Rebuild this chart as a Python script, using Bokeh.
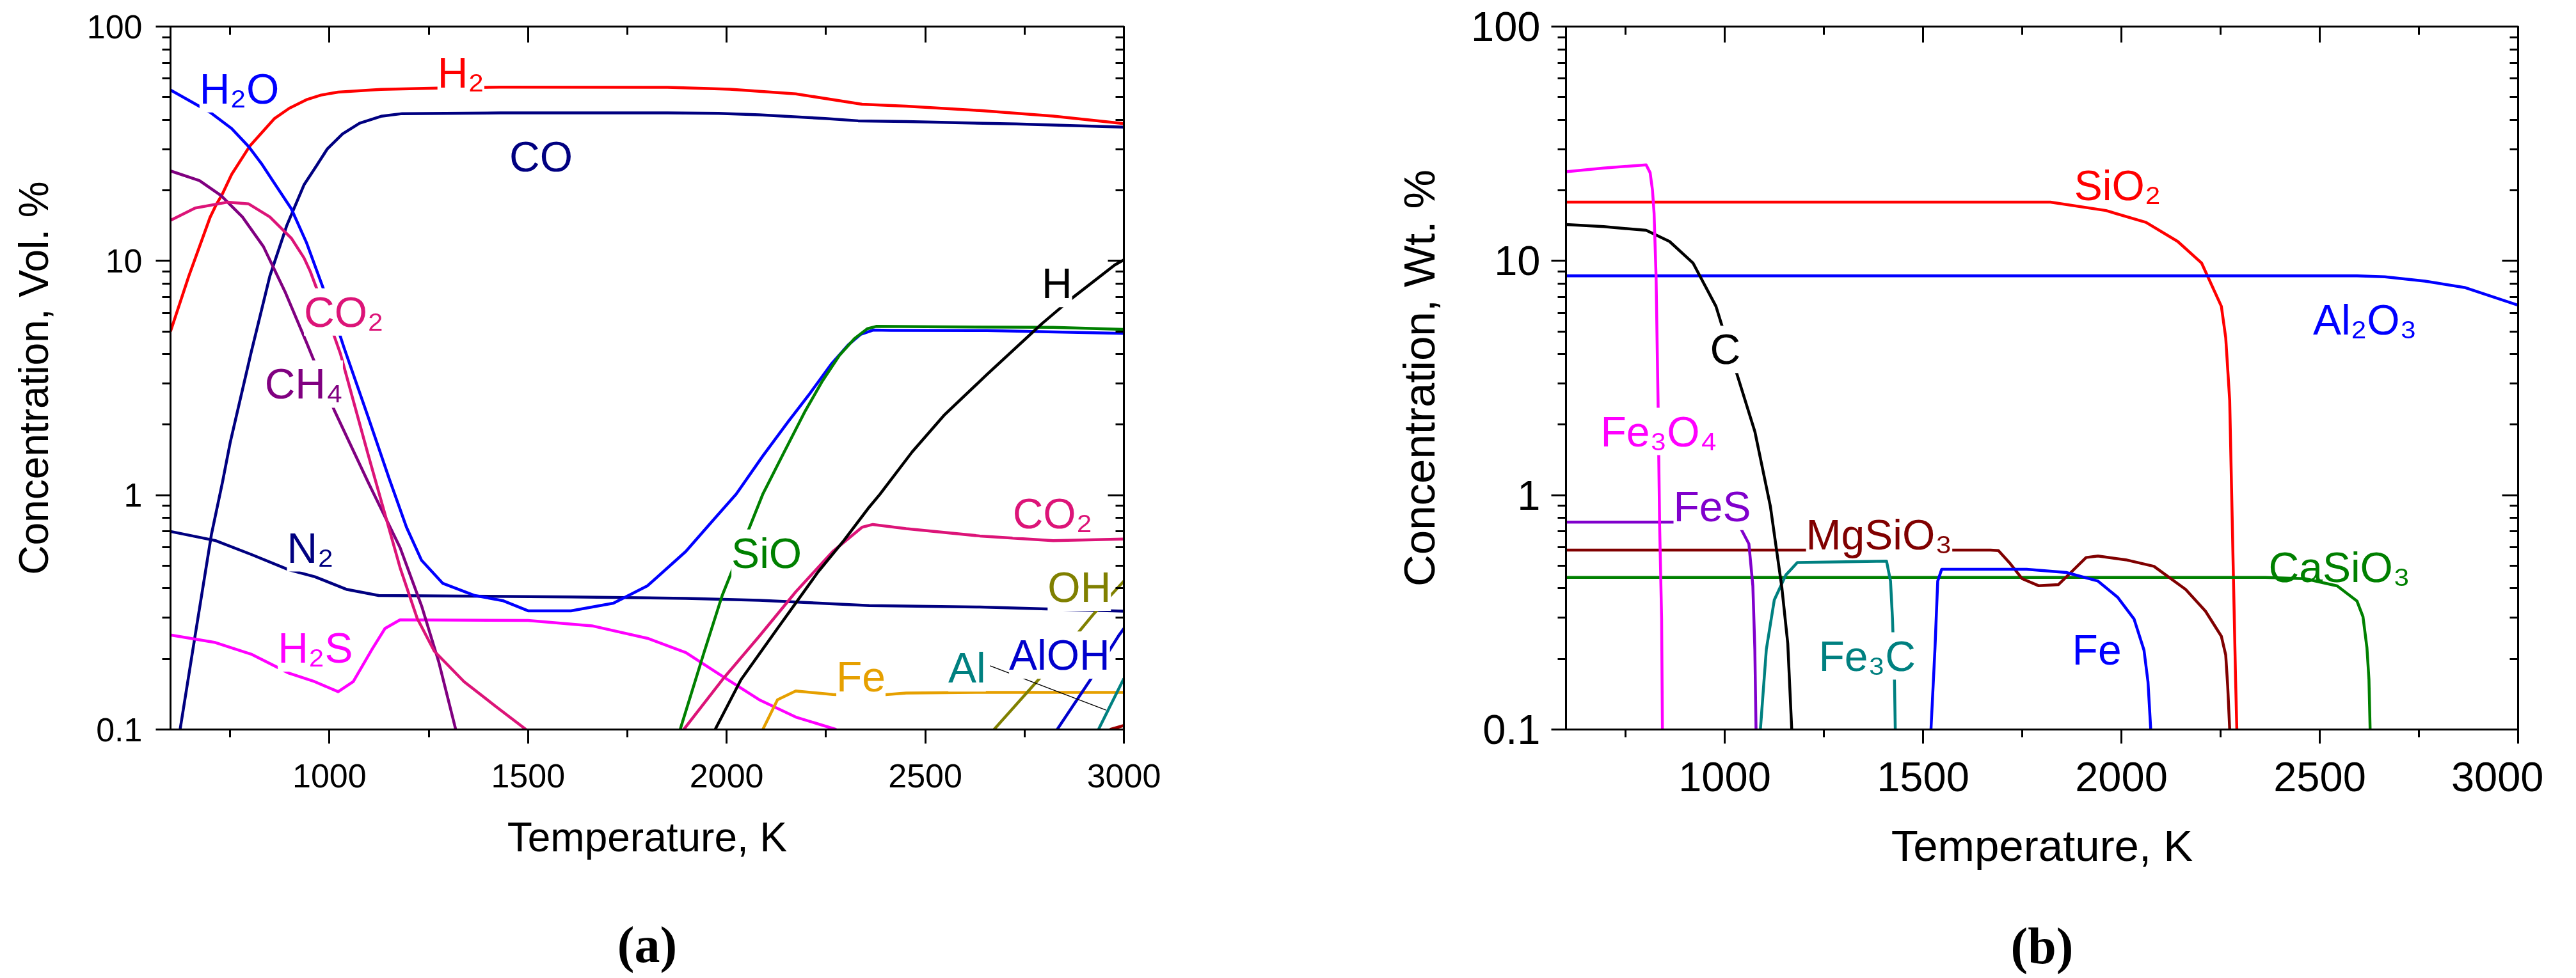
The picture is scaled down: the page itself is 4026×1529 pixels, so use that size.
from bokeh.plotting import figure
from bokeh.models import FixedTicker, LinearAxis, LogAxis, Label, Title, CustomJSTickFormatter
from bokeh.layouts import row
from bokeh.embed import file_html
from bokeh.resources import INLINE

nan = float("nan")

# ---------------- Panel (a): gas phase, Vol. % ----------------
a_H2_T = [600, 646, 700, 716, 730, 754, 799, 861, 899, 942, 979, 1022, 1130, 1291, 1430, 1851, 2008, 2174, 2341, 2452, 2637, 2822, 3000]
a_H2_v = [5.0, 8.6, 15.4, 17.5, 19.2, 23.4, 30.8, 40.4, 44.8, 48.7, 51.0, 52.5, 53.9, 54.7, 55.1, 55.0, 54.0, 51.6, 46.6, 45.7, 43.8, 41.5, 38.5]

a_CO_T = [622, 660, 703, 731, 750, 802, 850, 893, 936, 969, 995, 1033, 1076, 1130, 1183, 1430, 1851, 1980, 2082, 2248, 2331, 2452, 2729, 3000]
a_CO_v = [0.095, 0.24, 0.68, 1.14, 1.67, 4.0, 8.6, 14.2, 21.1, 25.7, 30.1, 34.8, 38.7, 41.4, 42.5, 42.8, 42.8, 42.6, 42.0, 40.5, 39.6, 39.3, 38.4, 37.2]

a_H2O_T = [600, 700, 754, 797, 829, 861, 904, 942, 969, 1017, 1036, 1097, 1151, 1194, 1232, 1285, 1366, 1436, 1500, 1608,
           1715, 1801, 1897, 1971, 2024, 2091, 2155, 2209, 2263, 2306, 2338, 2370, 2413, 2655, 3000]
a_H2O_v = [53.6, 43.0, 36.7, 30.7, 26.0, 21.5, 16.7, 12.0, 9.0, 5.4, 4.3, 2.17, 1.17, 0.73, 0.527, 0.421, 0.373, 0.355, 0.321, 0.321,
           0.346, 0.411, 0.575, 0.80, 1.01, 1.47, 2.06, 2.71, 3.62, 4.38, 4.86, 5.07, 5.05, 5.04, 4.9]

a_CO2_T = [600, 662, 743, 797, 850, 904, 936, 952, 1001, 1028, 1097, 1178, 1221, 1264, 1339, 1420, 1495, nan,
           1892, 1989, 2082, 2174, 2267, 2341, 2368, 2452, 2637, 2822, 3000]
a_CO2_v = [14.9, 16.8, 17.8, 17.5, 15.4, 12.5, 10.3, 9.0, 5.4, 4.0, 1.50, 0.49, 0.298, 0.216, 0.160, 0.125, 0.1, nan,
           0.1, 0.163, 0.25, 0.387, 0.575, 0.73, 0.75, 0.72, 0.67, 0.64, 0.65]

a_CH4_T = [600, 673, 727, 781, 834, 888, 942, 1012, 1097, 1178, 1232, 1275, 1318]
a_CH4_v = [24.2, 22.0, 19.0, 15.4, 11.5, 7.4, 4.5, 2.31, 1.14, 0.597, 0.337, 0.195, 0.1]

a_N2_T = [600, 713, 805, 898, 963, 1044, 1124, 1608, 1897, 2082, 2359, 2637, 3000]
a_N2_v = [0.70, 0.64, 0.557, 0.48, 0.449, 0.396, 0.373, 0.368, 0.363, 0.356, 0.338, 0.333, 0.32]

a_H2S_T = [600, 713, 805, 898, 963, 1022, 1060, 1108, 1140, 1178, 1500, 1661, 1801, 1897, 1989, 2082, 2174, 2276]
a_H2S_v = [0.253, 0.235, 0.209, 0.174, 0.160, 0.145, 0.160, 0.221, 0.270, 0.294, 0.292, 0.277, 0.245, 0.213, 0.169, 0.134, 0.113, 0.1]

a_H_T = [1971, 2036, 2128, 2230, 2295, 2359, 2386, 2467, 2547, 2655, 2794, 2868, 2977, 3000]
a_H_v = [0.1, 0.163, 0.27, 0.47, 0.64, 0.89, 1.01, 1.53, 2.19, 3.27, 5.4, 6.9, 9.6, 10.1]

a_SiO_T = [1883, 1943, 1989, 2091, 2145, 2198, 2241, 2284, 2322, 2354, 2376, 2822, 3000]
a_SiO_v = [0.1, 0.213, 0.374, 1.01, 1.53, 2.29, 3.07, 3.95, 4.66, 5.13, 5.25, 5.2, 5.1]

a_Fe_T = [2091, 2128, 2174, 2267, 2359, 2452, 2637, 3000]
a_Fe_v = [0.1, 0.134, 0.146, 0.141, 0.139, 0.143, 0.144, 0.144]

a_OH_T = [2673, 2816, 2923, 3000]
a_OH_v = [0.1, 0.187, 0.31, 0.43]

a_AlOH_T = [2832, 2939, 2988, 3000]
a_AlOH_v = [0.1, 0.187, 0.253, 0.27]

a_Al_T = [2936, 3000]
a_Al_v = [0.1, 0.165]

a_other_T = [2965, 3000]
a_other_v = [0.1, 0.104]

a_series = [
    (a_H2_T, a_H2_v, "#FF0000"),
    (a_CO_T, a_CO_v, "#000080"),
    (a_N2_T, a_N2_v, "#000080"),
    (a_H2S_T, a_H2S_v, "#FF00FF"),
    (a_CH4_T, a_CH4_v, "#800080"),
    (a_CO2_T, a_CO2_v, "#DC1478"),
    (a_H2O_T, a_H2O_v, "#0000FF"),
    (a_SiO_T, a_SiO_v, "#008000"),
    (a_H_T, a_H_v, "#000000"),
    (a_Fe_T, a_Fe_v, "#E6A000"),
    (a_OH_T, a_OH_v, "#808000"),
    (a_AlOH_T, a_AlOH_v, "#0000CC"),
    (a_Al_T, a_Al_v, "#008080"),
    (a_other_T, a_other_v, "#A00000"),
]

a_label_text = ["H₂O", "H₂", "CO", "CO₂", "CH₄", "N₂", "H₂S", "H", "SiO", "CO₂", "OH", "AlOH", "Al", "Fe"]
a_label_T = [673, 1272, 1453, 936, 837, 893, 870, 2793, 2012, 2720, 2808, 2711, 2558, 2276]
a_label_v = [54.3, 63.4, 27.9, 6.05, 2.98, 0.596, 0.223, 8.0, 0.566, 0.836, 0.405, 0.2075, 0.183, 0.168]
a_label_color = ["#0000FF", "#FF0000", "#000080", "#DC1478", "#800080", "#000080", "#FF00FF", "#000000",
                 "#008000", "#DC1478", "#808000", "#0000CC", "#008080", "#E6A000"]
a_label_bg = [True, True, True, True, True, True, True, True, True, True, True, True, True, True]

a_leader_T = [2663, 2955]
a_leader_v = [0.187, 0.121]

# ---------------- Panel (b): condensed phase, Wt. % ----------------
b_Fe3O4_T = [600, 695, 802, 812, 818, 822, 827, 832, 836, 841, 843]
b_Fe3O4_v = [24.0, 24.9, 25.7, 23.8, 20.0, 16.0, 8.6, 2.54, 0.74, 0.297, 0.1]

b_C_T = [600, 695, 802, 861, 920, 978, 1027, 1076, 1115, 1144, 1159, 1169]
b_C_v = [14.3, 14.0, 13.5, 12.1, 9.8, 6.4, 3.45, 1.87, 0.90, 0.405, 0.233, 0.1]

b_FeS_T = [600, 988, 1037, 1061, 1071, 1076, 1079]
b_FeS_v = [0.767, 0.767, 0.74, 0.62, 0.41, 0.22, 0.1]

b_Fe3C_T = [1090, 1105, 1125, 1154, 1183, 1408, 1418, 1423, 1428, 1430]
b_Fe3C_v = [0.1, 0.22, 0.357, 0.456, 0.516, 0.523, 0.43, 0.297, 0.161, 0.1]

b_SiO2_T = [600, 1821, 1961, 2062, 2142, 2202, 2252, 2263, 2273, 2278, 2283, 2288, 2291]
b_SiO2_v = [17.8, 17.8, 16.4, 14.6, 12.1, 9.8, 6.4, 4.7, 2.54, 1.01, 0.40, 0.16, 0.1]

b_Al2O3_T = [600, 2594, 2664, 2765, 2865, 3000]
b_Al2O3_v = [8.63, 8.63, 8.55, 8.2, 7.7, 6.47]

b_MgSiO3_T = [600, 1670, 1690, 1720, 1750, 1791, 1841, 1871, 1911, 1941, 2011, 2082, 2162, 2212, 2252, 2263, 2268, 2273]
b_MgSiO3_v = [0.583, 0.583, 0.58, 0.51, 0.44, 0.411, 0.415, 0.465, 0.542, 0.55, 0.53, 0.497, 0.396, 0.32, 0.25, 0.208, 0.153, 0.1]

b_CaSiO3_T = [600, 2363, 2463, 2544, 2594, 2609, 2619, 2624, 2627]
b_CaSiO3_v = [0.446, 0.446, 0.44, 0.41, 0.353, 0.303, 0.223, 0.164, 0.1]

b_Fe_T = [1520, 1530, 1537, 1547, 1761, 1861, 1941, 1991, 2032, 2057, 2067, 2074]
b_Fe_v = [0.1, 0.22, 0.43, 0.483, 0.483, 0.468, 0.43, 0.366, 0.296, 0.218, 0.16, 0.1]

b_series = [
    (b_SiO2_T, b_SiO2_v, "#FF0000"),
    (b_Al2O3_T, b_Al2O3_v, "#0000FF"),
    (b_CaSiO3_T, b_CaSiO3_v, "#008000"),
    (b_MgSiO3_T, b_MgSiO3_v, "#800000"),
    (b_Fe_T, b_Fe_v, "#0000FF"),
    (b_Fe3C_T, b_Fe3C_v, "#008080"),
    (b_FeS_T, b_FeS_v, "#8000CC"),
    (b_C_T, b_C_v, "#000000"),
    (b_Fe3O4_T, b_Fe3O4_v, "#FF00FF"),
]

b_label_text = ["SiO₂", "Al₂O₃", "C", "Fe₃O₄", "FeS", "MgSiO₃", "Fe₃C", "Fe", "CaSiO₃"]
b_label_T = [1881, 2483, 963, 687, 871, 1205, 1237, 1876, 2371]
b_label_v = [21.0, 5.62, 4.19, 1.87, 0.895, 0.679, 0.206, 0.219, 0.491]
b_label_color = ["#FF0000", "#0000FF", "#000000", "#FF00FF", "#8000CC", "#800000", "#008080", "#0000FF", "#008000"]
b_label_bg = [False, False, True, True, True, True, True, True, False]

# ---------------- Axes ticks ----------------
x_major = [1000, 1500, 2000, 2500, 3000]
x_minor = [750, 1250, 1750, 2250, 2750]
y_major = [0.1, 1, 10, 100]
y_minor = [k * d for d in (0.1, 1, 10) for k in range(2, 10)]
y_labels = {0.1: "0.1", 1: "1", 10: "10", 100: "100"}

FONT = "Liberation Sans"


def blank_axis(cls, ticker, **kw):
    return cls(ticker=ticker, formatter=CustomJSTickFormatter(code="return ''"),
               major_label_text_font_size="1px", **kw)


def make_panel(series, lw, lab_T, lab_v, lab_text, lab_color, lab_bg, lab_fs, ylabel,
               left_border, right_border, frame_w, tick_fs, title_fs,
               xtick_sd, xlab_sd, ytick_sd, ylab_sd, panel_text, gap):
    p = figure(x_range=(600, 3000), y_range=(0.1, 100), y_axis_type="log",
               frame_width=frame_w, frame_height=1099,
               min_border_left=left_border, min_border_right=right_border,
               min_border_top=41, min_border_bottom=373,
               output_backend="svg", toolbar_location=None,
               background_fill_color="white", border_fill_color="white")
    p.xgrid.visible = False
    p.ygrid.visible = False
    p.outline_line_color = "black"
    p.outline_line_width = 3

    xa = p.below[0]
    xa.ticker = FixedTicker(ticks=x_major, minor_ticks=x_minor)
    xa.major_tick_out = 22
    xa.major_tick_in = 0
    xa.minor_tick_out = 12
    xa.minor_tick_in = 0
    xa.axis_line_width = 3
    xa.major_tick_line_width = 3
    xa.minor_tick_line_width = 3
    xa.major_label_text_font = FONT
    xa.major_label_text_font_size = tick_fs
    xa.major_label_text_color = "black"
    xa.major_label_standoff = xtick_sd
    xa.axis_label = "Temperature, K"
    xa.axis_label_text_font = FONT
    xa.axis_label_text_font_size = title_fs
    xa.axis_label_text_font_style = "normal"
    xa.axis_label_text_color = "black"
    xa.axis_label_standoff = xlab_sd

    ya = p.left[0]
    ya.ticker = FixedTicker(ticks=y_major, minor_ticks=y_minor)
    ya.major_label_overrides = y_labels
    ya.major_tick_out = 23
    ya.major_tick_in = 0
    ya.minor_tick_out = 13
    ya.minor_tick_in = 0
    ya.axis_line_width = 3
    ya.major_tick_line_width = 3
    ya.minor_tick_line_width = 3
    ya.major_label_text_font = FONT
    ya.major_label_text_font_size = tick_fs
    ya.major_label_text_color = "black"
    ya.major_label_standoff = ytick_sd
    ya.axis_label = ylabel
    ya.axis_label_text_font = FONT
    ya.axis_label_text_font_size = title_fs
    ya.axis_label_text_font_style = "normal"
    ya.axis_label_text_color = "black"
    ya.axis_label_standoff = ylab_sd

    top = blank_axis(LinearAxis, FixedTicker(ticks=x_major, minor_ticks=x_minor),
                     major_tick_in=25, major_tick_out=0, minor_tick_in=13, minor_tick_out=0,
                     axis_line_width=3, major_tick_line_width=3, minor_tick_line_width=3,
                     major_label_standoff=0)
    p.add_layout(top, "above")
    right = blank_axis(LogAxis, FixedTicker(ticks=y_major, minor_ticks=y_minor),
                       major_tick_in=25, major_tick_out=0, minor_tick_in=13, minor_tick_out=0,
                       axis_line_width=3, major_tick_line_width=3, minor_tick_line_width=3,
                       major_label_standoff=0)
    p.add_layout(right, "right")

    # invisible spacer (hidden tick length) between the axis title and the panel caption
    spacer = blank_axis(LinearAxis, FixedTicker(ticks=x_major),
                        major_tick_in=0, major_tick_out=gap, minor_tick_in=0, minor_tick_out=0,
                        axis_line_color=None, major_tick_line_color=None, minor_tick_line_color=None,
                        major_label_standoff=0)
    p.add_layout(spacer, "below")

    for T, v, col in series:
        p.line(T, v, line_color=col, line_width=lw, line_join="round")

    for t, v, txt, col, bg in zip(lab_T, lab_v, lab_text, lab_color, lab_bg):
        p.add_layout(Label(x=t, y=v, text=txt, text_color=col, text_font=FONT,
                           text_font_size=lab_fs, text_align="left", text_baseline="alphabetic",
                           background_fill_color="white" if bg else None))

    p.add_layout(Title(text=panel_text, align="center", offset=-45, standoff=10,
                       text_font="Liberation Serif", text_font_style="bold", text_font_size="80px",
                       text_color="black"), "below")
    return p


pa = make_panel(a_series, 4.5, a_label_T, a_label_v, a_label_text, a_label_color, a_label_bg, "66px",
                "Concentration, Vol. %", 266, 120, 1490, "52px", "64px",
                32, 39, 21, 44, "(a)", 78)
pa.line(a_leader_T, a_leader_v, line_color="black", line_width=1.5)

pb = make_panel(b_series, 4.5, b_label_T, b_label_v, b_label_text, b_label_color, b_label_bg, "66px",
                "Concentration, Wt. %", 571, 40, 1488, "65px", "69px",
                29, 44, 17, 39, "(b)", 64)

layout = row(pa, pb)
open("out.html", "w").write(file_html(layout, INLINE))
